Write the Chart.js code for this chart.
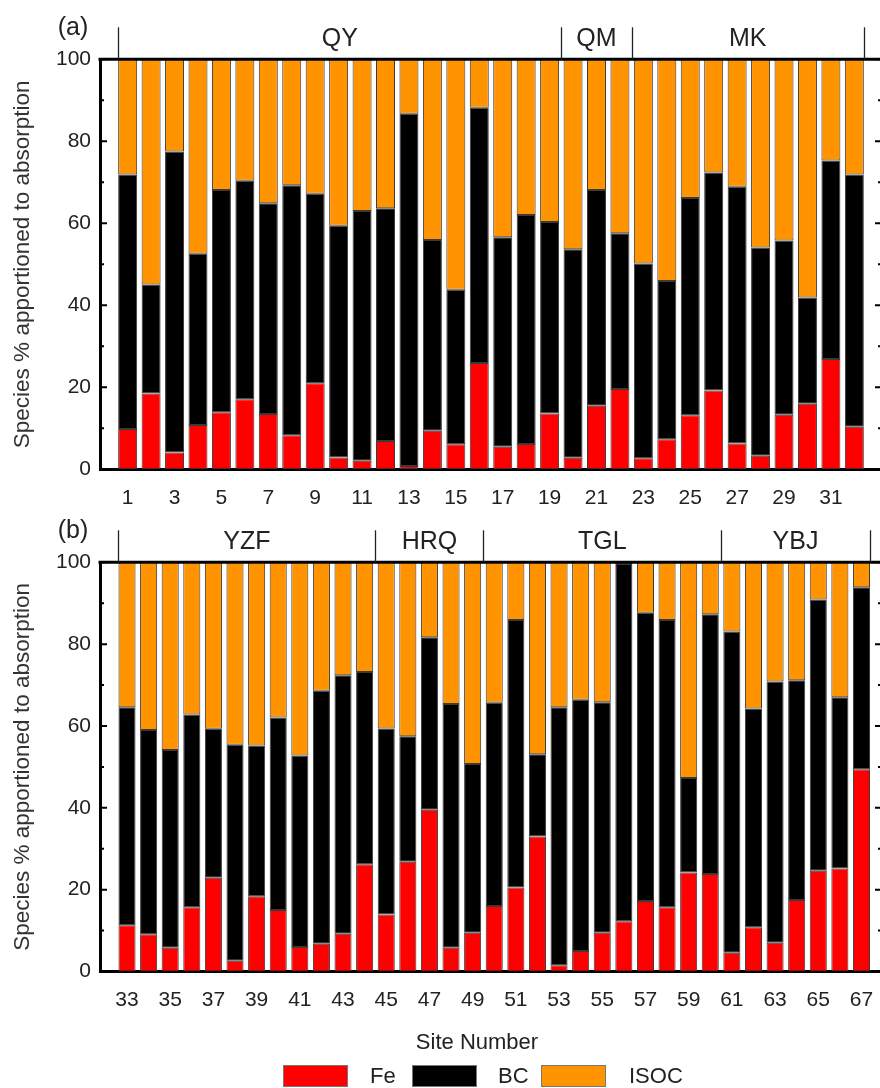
<!DOCTYPE html>
<html>
<head>
<meta charset="utf-8">
<script src="https://cdn.jsdelivr.net/npm/chart.js@4.4.1/dist/chart.umd.min.js"></script>
<style>
  html, body { margin: 0; padding: 0; background: #fff; overflow: hidden; width: 880px; height: 1088px; }
  body { position: relative; font-family: "Liberation Sans", Arial, sans-serif; color: #222; }
  canvas { position: absolute; left: 0; }
  #panelA { top: 0; }
  #panelB { top: 500px; }
  .xtitle { position: absolute; left: 477px; top: 1029px; transform: translateX(-50%); font-size: 22px; white-space: nowrap; }
  .lg-box { position: absolute; top: 1065px; width: 63px; height: 20px; border: 1px solid #777; }
  .lg-text { position: absolute; top: 1064px; font-size: 22px; line-height: 24px; }
</style>
</head>
<body>
<canvas id="panelA" width="900" height="510"></canvas>
<canvas id="panelB" width="900" height="530"></canvas>
<div class="xtitle">Site Number</div>
<div id="legend"></div>
<script>
const RED = "#ff0000";
const BLACK = "#000000";
const ORANGE = "#ff9300";

const seriesNames = ["Fe", "BC", "ISOC"];
const seriesColors = [RED, BLACK, ORANGE];

// panel (a)
const sitesA = [1, 2, 3, 4, 5, 6, 7, 8, 9, 10, 11, 12, 13, 14, 15, 16,
  17, 18, 19, 20, 21, 22, 23, 24, 25, 26, 27, 28, 29, 30, 31, 32];
const feA = [9.8, 18.5, 4.1, 10.8, 13.9, 17.1, 13.5, 8.3, 21.0, 2.9, 2.1, 6.9, 0.8, 9.4, 6.1, 25.9,
  5.5, 6.2, 13.6, 2.8, 15.5, 19.6, 2.7, 7.3, 13.2, 19.2, 6.3, 3.3, 13.3, 16.0, 26.9, 10.4];
const bcA = [62.1, 26.6, 73.4, 41.8, 54.2, 53.3, 51.4, 61.0, 46.2, 56.5, 60.9, 56.8, 85.9, 46.5, 37.7, 62.3,
  51.1, 55.8, 46.7, 50.9, 52.6, 38.0, 47.5, 38.6, 53.0, 53.2, 62.6, 50.8, 42.5, 25.9, 48.4, 61.5];
const isocA = [28.1, 54.9, 22.5, 47.4, 31.9, 29.6, 35.1, 30.7, 32.8, 40.6, 37.0, 36.3, 13.3, 44.1, 56.2, 11.8,
  43.4, 38.0, 39.7, 46.3, 31.9, 42.4, 49.8, 54.1, 33.8, 27.6, 31.1, 45.9, 44.2, 58.1, 24.7, 28.1];
const xTicksA = [1, 3, 5, 7, 9, 11, 13, 15, 17, 19, 21, 23, 25, 27, 29, 31];
const groupsA = ["QY", "QM", "MK"];
const groupEndsA = [19, 22, 32];

// panel (b)
const sitesB = [33, 34, 35, 36, 37, 38, 39, 40, 41, 42, 43, 44, 45, 46, 47, 48, 49, 50,
  51, 52, 53, 54, 55, 56, 57, 58, 59, 60, 61, 62, 63, 64, 65, 66, 67];
const feB = [11.3, 9.1, 5.8, 15.7, 22.9, 2.6, 18.4, 15.0, 6.0, 6.8, 9.2, 26.2, 13.9, 26.8, 39.5, 5.8, 9.5, 16.0,
  20.5, 33.0, 1.5, 5.0, 9.5, 12.3, 17.2, 15.7, 24.2, 23.8, 4.6, 10.8, 7.0, 17.5, 24.6, 25.2, 49.4];
const bcB = [53.3, 49.9, 48.3, 47.1, 36.4, 52.8, 36.8, 47.1, 46.8, 61.8, 63.2, 47.0, 45.5, 30.7, 42.2, 59.6, 41.2, 49.7,
  65.4, 20.1, 63.1, 61.4, 56.3, 87.3, 70.5, 70.2, 23.1, 63.5, 78.5, 53.5, 63.9, 53.7, 66.3, 41.8, 44.5];
const isocB = [35.4, 41.0, 45.9, 37.2, 40.7, 44.6, 44.8, 37.9, 47.2, 31.4, 27.6, 26.8, 40.6, 42.5, 18.3, 34.6, 49.3, 34.3,
  14.1, 46.9, 35.4, 33.6, 34.2, 0.4, 12.3, 14.1, 52.7, 12.7, 16.9, 35.7, 29.1, 28.8, 9.1, 33.0, 6.1];
const xTicksB = [33, 35, 37, 39, 41, 43, 45, 47, 49, 51, 53, 55, 57, 59, 61, 63, 65, 67];
const groupsB = ["YZF", "HRQ", "TGL", "YBJ"];
const groupEndsB = [44, 49, 60, 67];

const yTicks = [0, 20, 40, 60, 80, 100];
const yMinorTicks = [10, 30, 50, 70, 90];

Chart.defaults.font.family = '"Liberation Sans", Arial, sans-serif';
Chart.defaults.color = "#222";

function makePanel(id, cfg) {
  const ctx = document.getElementById(id).getContext("2d");

  const frame = {
    id: "frame",
    afterDraw(chart) {
      const { ctx, chartArea: a, scales: { x, y } } = chart;
      ctx.save();
      ctx.strokeStyle = "#000";
      ctx.lineWidth = 3;
      ctx.beginPath();
      ctx.moveTo(a.left - 1.5, a.top);
      ctx.lineTo(a.right + 2, a.top);
      ctx.stroke();

      // inward ticks, left and right
      ctx.lineWidth = 2;
      yTicks.concat(yMinorTicks).forEach((v) => {
        const py = y.getPixelForValue(v);
        const len = yTicks.includes(v) ? 7 : 4;
        ctx.beginPath();
        ctx.moveTo(a.left, py);
        ctx.lineTo(a.left + len, py);
        ctx.moveTo(a.right, py);
        ctx.lineTo(a.right - len, py);
        ctx.stroke();
      });

      // site groups above the frame
      const half = cfg.barPct / 2;
      const last = cfg.groupEnds.length - 1;
      const bounds = [cfg.sites[0] - half].concat(
        cfg.groupEnds.map((e, i) => (i === last ? e + half : e + 0.5))
      );
      ctx.strokeStyle = "#222";
      ctx.lineWidth = 1.3;
      bounds.forEach((b) => {
        const px = Math.round(x.getPixelForValue(b)) + 0.5;
        ctx.beginPath();
        ctx.moveTo(px, a.top - 32);
        ctx.lineTo(px, a.top);
        ctx.stroke();
      });
      ctx.fillStyle = "#222";
      ctx.font = '25px "Liberation Sans", Arial, sans-serif';
      ctx.textAlign = "center";
      ctx.textBaseline = "middle";
      cfg.groups.forEach((g, i) => {
        const c = (x.getPixelForValue(bounds[i]) + x.getPixelForValue(bounds[i + 1])) / 2;
        ctx.fillText(g, c, a.top - 20);
      });
      ctx.fillText(cfg.letter, a.left - 27, a.top - 31);
      ctx.restore();
    },
  };

  const values = [cfg.fe, cfg.bc, cfg.isoc];

  return new Chart(ctx, {
    type: "bar",
    data: {
      datasets: seriesNames.map((name, k) => ({
        label: name,
        data: cfg.sites.map((s, i) => ({ x: s, y: values[k][i] })),
        backgroundColor: seriesColors[k],
        borderColor: "#3a3a3a",
        borderWidth: 1,
        borderSkipped: false,
        barPercentage: cfg.barPct,
        categoryPercentage: 1,
      })),
    },
    options: {
      responsive: false,
      animation: false,
      events: [],
      layout: { padding: { left: 0, right: 18, top: cfg.padTop, bottom: 0 } },
      plugins: { legend: { display: false }, tooltip: { enabled: false } },
      scales: {
        x: {
          type: "linear",
          stacked: true,
          offset: false,
          bounds: "data",
          min: cfg.xMin,
          max: cfg.xMax,
          grid: { display: false, drawTicks: false, offset: false },
          border: { display: true, width: 3, color: "#000" },
          ticks: {
            autoSkip: false,
            maxRotation: 0,
            padding: 16,
            color: "#222",
            font: { size: 21 },
            callback: (v) => String(v),
          },
          afterBuildTicks: (s) => { s.ticks = cfg.xTicks.map((v) => ({ value: v })); },
          afterFit: (s) => { s.height = cfg.xHeight; },
        },
        y: {
          stacked: true,
          min: 0,
          max: 100,
          grid: { display: false, drawTicks: false },
          border: { display: true, width: 3, color: "#000" },
          ticks: { padding: 9, color: "#222", font: { size: 21 } },
          afterBuildTicks: (s) => { s.ticks = yTicks.map((v) => ({ value: v })); },
          afterFit: (s) => { s.width = 100; },
          title: {
            display: true,
            text: "Species % apportioned to absorption",
            color: "#333",
            font: { size: 22.5 },
            padding: { top: 9, bottom: 0 },
          },
        },
      },
    },
    plugins: [frame],
  });
}

makePanel("panelA", {
  sites: sitesA, fe: feA, bc: bcA, isoc: isocA,
  xTicks: xTicksA, groups: groupsA, groupEnds: groupEndsA,
  letter: "(a)", xMin: -0.18, xMax: 33.18, barPct: 0.81,
  padTop: 59.3, xHeight: 40.7,
});

makePanel("panelB", {
  sites: sitesB, fe: feB, bc: bcB, isoc: isocB,
  xTicks: xTicksB, groups: groupsB, groupEnds: groupEndsB,
  letter: "(b)", xMin: 31.75, xMax: 67.95, barPct: 0.79,
  padTop: 62.3, xHeight: 58.5,
});

// legend
const legend = document.getElementById("legend");
const boxLeft = [283, 412, 541];
const textLeft = [370, 498, 629];
seriesNames.forEach((name, k) => {
  const box = document.createElement("div");
  box.className = "lg-box";
  box.style.left = boxLeft[k] + "px";
  box.style.background = seriesColors[k];
  legend.appendChild(box);
  const t = document.createElement("div");
  t.className = "lg-text";
  t.style.left = textLeft[k] + "px";
  t.textContent = name;
  legend.appendChild(t);
});
</script>
</body>
</html>
